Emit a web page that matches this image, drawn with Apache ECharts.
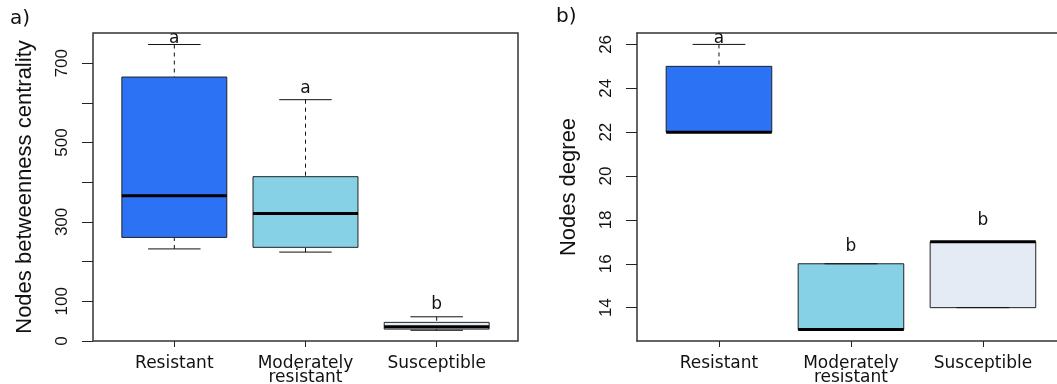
<!DOCTYPE html>
<html>
<head>
<meta charset="utf-8">
<script src="https://cdn.jsdelivr.net/npm/echarts@6/dist/echarts.min.js"></script>
<style>
  html, body { margin: 0; padding: 0; background: #fff; }
  #chart { width: 1057px; height: 384px; }
</style>
</head>
<body>
<div id="chart"></div>
<script>
// groups on the x axis
var categories = ["Resistant", "Moderately\nresistant", "Susceptible"];

// a) betweenness centrality, five-number summaries
var betwMin = [232, 224, 27];
var betwQ1 = [261, 236, 30];
var betwMedian = [366, 321, 36];
var betwQ3 = [665, 414, 47];
var betwMax = [747, 608, 61];
var betwLetters = ["a", "a", "b"];
var betwLetterAt = [763, 637, 91];
var betwTicks = [0, 100, 200, 300, 400, 500, 600, 700];
var betwTickLabels = [0, 100, 300, 500, 700];

// b) degree
var degMin = [22, 13, 14];
var degQ1 = [22, 13, 14];
var degMedian = [22, 13, 17];
var degQ3 = [25, 16, 17];
var degMax = [26, 16, 17];
var degLetters = ["a", "b", "b"];
var degLetterAt = [26.27, 16.78, 17.95];
var degTicks = [14, 16, 18, 20, 22, 24, 26];

var boxColors = ["#2b73f4", "#87d1e6", "#e5ebf4"];
var frame = { color: "#333", width: 1.5 };

function rows(mins, q1s, meds, q3s, maxs) {
  return categories.map(function (c, i) {
    return [i + 1, mins[i], q1s[i], meds[i], q3s[i], maxs[i]];
  });
}

function renderBox(params, api) {
  var x = api.value(0);
  var lo = api.value(1), q1 = api.value(2), med = api.value(3), q3 = api.value(4), hi = api.value(5);
  var half = 0.4, cap = 0.2;
  var tl = api.coord([x - half, q3]);
  var br = api.coord([x + half, q1]);
  var mid = api.coord([x, med]);
  var top = api.coord([x, hi]);
  var bot = api.coord([x, lo]);
  var capL = api.coord([x - cap, lo])[0];
  var capR = api.coord([x + cap, lo])[0];
  var line = { stroke: "#111", lineWidth: 1 };
  var dashed = { stroke: "#111", lineWidth: 1, lineDash: [4, 4] };
  var kids = [];
  if (hi > q3) kids.push({ type: "line", shape: { x1: top[0], y1: top[1], x2: top[0], y2: tl[1] }, style: dashed });
  if (lo < q1) kids.push({ type: "line", shape: { x1: bot[0], y1: bot[1], x2: bot[0], y2: br[1] }, style: dashed });
  kids.push({
    type: "rect",
    shape: { x: tl[0], y: tl[1], width: br[0] - tl[0], height: br[1] - tl[1] },
    style: { fill: boxColors[params.dataIndex], stroke: "#222", lineWidth: 1 }
  });
  kids.push({ type: "line", shape: { x1: capL, y1: top[1], x2: capR, y2: top[1] }, style: line });
  kids.push({ type: "line", shape: { x1: capL, y1: bot[1], x2: capR, y2: bot[1] }, style: line });
  kids.push({ type: "line", shape: { x1: tl[0], y1: mid[1], x2: br[0], y2: mid[1] }, style: { stroke: "#000", lineWidth: 3 } });
  return { type: "group", children: kids };
}

function renderLetter(params, api) {
  var p = api.coord([api.value(0), api.value(1)]);
  return {
    type: "text",
    x: p[0], y: p[1],
    style: {
      text: api.value(2),
      align: "center", verticalAlign: "middle",
      font: "17px 'DejaVu Sans'", fill: "#111"
    }
  };
}

function xAxisFor(gridIndex, min, max, withLine) {
  return {
    type: "value", gridIndex: gridIndex, min: min, max: max,
    axisLine: { show: withLine, lineStyle: frame },
    splitLine: { show: false },
    axisTick: { show: true, customValues: [1, 2, 3], length: 6, lineStyle: { color: "#222" } },
    axisLabel: {
      customValues: [1, 2, 3], margin: 16,
      formatter: function (v) { return categories[Math.round(v) - 1]; },
      fontFamily: "DejaVu Sans", fontSize: 17, lineHeight: 14, color: "#111"
    }
  };
}

function yAxisFor(gridIndex, min, max, ticks, labels, name, withLine) {
  return {
    type: "value", gridIndex: gridIndex, min: min, max: max,
    name: name, nameLocation: "middle", nameGap: 57,
    nameTextStyle: { fontFamily: "Liberation Sans", fontSize: 22, color: "#111" },
    axisLine: { show: withLine, lineStyle: frame },
    splitLine: { show: false },
    axisTick: { show: true, customValues: ticks, length: 11, lineStyle: { color: "#222" } },
    axisLabel: {
      customValues: labels, rotate: 90, margin: 22,
      fontFamily: "Liberation Sans", fontSize: 17, color: "#111"
    }
  };
}

var chart = echarts.init(document.getElementById("chart"), null, { renderer: "canvas" });
chart.setOption({
  animation: false,
  backgroundColor: "#fff",
  grid: [
    {
      left: 93, top: 33, width: 425, height: 308, outerBoundsMode: "none",
      show: true, borderColor: frame.color, borderWidth: frame.width, backgroundColor: "transparent"
    },
    // panel b runs off the right edge of the picture, so no right border
    { left: 637, top: 33, right: 0, height: 308, outerBoundsMode: "none" }
  ],
  xAxis: [
    xAxisFor(0, 0.38, 3.62, false),
    xAxisFor(1, 0.379, 3.561, true),
    {
      type: "value", gridIndex: 1, position: "top", min: 0.379, max: 3.561,
      axisLine: { show: true, lineStyle: frame },
      axisTick: { show: false }, axisLabel: { show: false }, splitLine: { show: false }
    }
  ],
  yAxis: [
    yAxisFor(0, 0, 776, betwTicks, betwTickLabels, "Nodes betweenness centrality", false),
    yAxisFor(1, 12.48, 26.52, degTicks, degTicks, "Nodes degree", true)
  ],
  graphic: [
    { type: "text", left: 10, top: 9, style: { text: "a)", font: "20px 'DejaVu Sans'", fill: "#111" } },
    { type: "text", left: 556, top: 7, style: { text: "b)", font: "20px 'DejaVu Sans'", fill: "#111" } }
  ],
  series: [
    {
      type: "custom", xAxisIndex: 0, yAxisIndex: 0, clip: false,
      renderItem: renderBox,
      data: rows(betwMin, betwQ1, betwMedian, betwQ3, betwMax)
    },
    {
      type: "custom", xAxisIndex: 0, yAxisIndex: 0, clip: false,
      renderItem: renderLetter,
      data: categories.map(function (c, i) { return [i + 1, betwLetterAt[i], betwLetters[i]]; })
    },
    {
      type: "custom", xAxisIndex: 1, yAxisIndex: 1, clip: false,
      renderItem: renderBox,
      data: rows(degMin, degQ1, degMedian, degQ3, degMax)
    },
    {
      type: "custom", xAxisIndex: 1, yAxisIndex: 1, clip: false,
      renderItem: renderLetter,
      data: categories.map(function (c, i) { return [i + 1, degLetterAt[i], degLetters[i]]; })
    }
  ]
});
</script>
</body>
</html>
